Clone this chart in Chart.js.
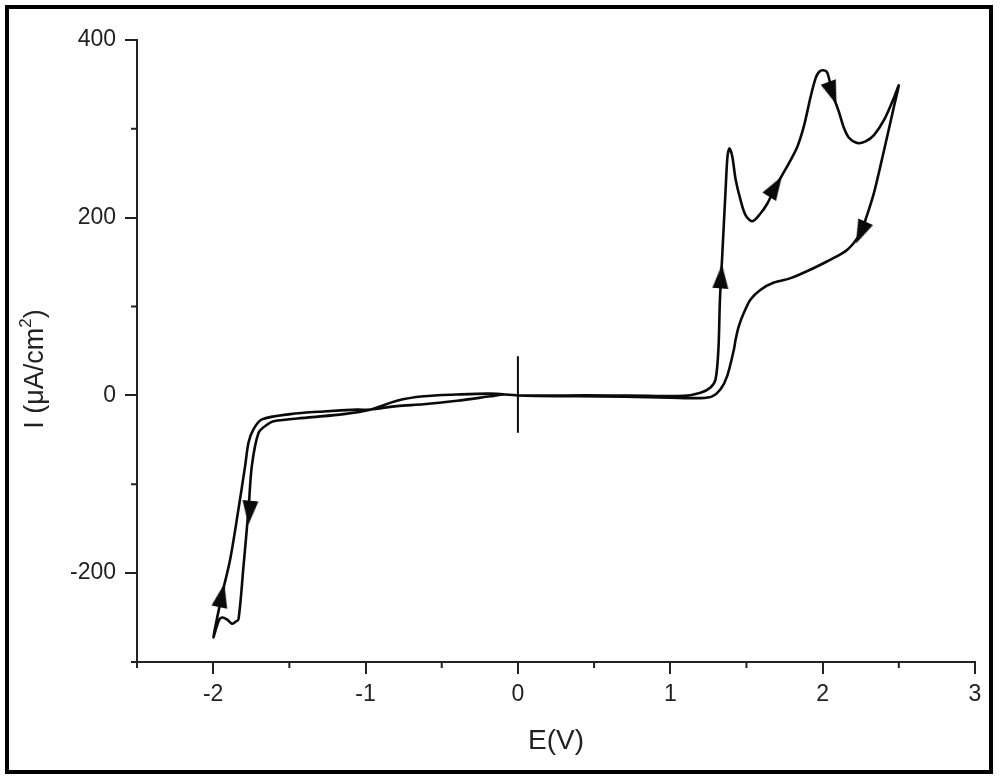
<!DOCTYPE html>
<html>
<head>
<meta charset="utf-8">
<script src="https://cdn.jsdelivr.net/npm/chart.js@4.4.1/dist/chart.umd.min.js"></script>
<style>
  html, body { margin: 0; padding: 0; background: #fff; }
  #wrap { width: 1000px; height: 782px; position: relative; }
</style>
</head>
<body>
<div id="wrap"><canvas id="chart"></canvas></div>
<script>
// scan 1: 0 V -> 2.5 V (anodic)
const fwdE = [0, 0.3, 0.6, 0.85, 1.089, 1.199, 1.264, 1.297, 1.316, 1.326, 1.341, 1.363, 1.376, 1.389, 1.407, 1.429, 1.461, 1.494, 1.538, 1.593, 1.637, 1.691, 1.768, 1.834, 1.877, 1.921, 1.954, 1.976, 2.004, 2.031, 2.064, 2.107, 2.14, 2.173, 2.228, 2.282, 2.337, 2.403, 2.468, 2.5];
const fwdI = [0, 0, 0, -0.5, -0.5, 3, 9, 18, 52, 108, 157, 231, 270, 278, 269, 243, 220, 203, 196, 205, 216, 235, 258, 280, 303, 336, 357, 364, 366, 363, 340, 319, 301, 290, 284, 286, 293, 310, 335, 349];

// scan 2: 2.5 V -> -2 V (cathodic)
const revE = [2.5, 2.468, 2.403, 2.337, 2.282, 2.25, 2.162, 2.031, 1.9, 1.79, 1.68, 1.593, 1.527, 1.483, 1.45, 1.429, 1.418, 1.374, 1.33, 1.275, 1.199, 1.0, 0.7, 0.4, 0, -0.18, -0.4, -0.62, -0.794, -0.969, -1.144, -1.385, -1.604, -1.647, -1.702, -1.746, -1.768, -1.801, -1.834, -1.855, -1.877, -1.91, -1.943, -1.965, -1.998];
const revI = [349, 325, 276, 228, 198, 183, 164, 151, 140, 132, 127, 119, 108, 93, 78, 63, 52, 22, 7, -1, -3, -2.5, -1.5, -1, 0, 2, 1, -1, -6, -16, -21, -25, -29, -33, -42, -79, -128, -192, -252, -255, -257, -252, -250, -254, -272];

// scan 3: -2 V -> 0 V
const retE = [-1.998, -1.943, -1.888, -1.834, -1.79, -1.768, -1.735, -1.68, -1.494, -1.276, -1.056, -0.969, -0.794, -0.619, -0.399, -0.18, -0.09, 0];
const retI = [-272, -225, -184, -128, -79, -53, -38, -27, -21, -18, -16, -16, -12, -10, -6, -1, 1, 0];

// start marker at E = 0
const markE = [0, 0];
const markI = [44, -42];

// direction arrows: position and heading (degrees, clockwise from up)
const arrowE = [1.334, 1.691, 2.064, 2.25, -1.762, -1.943];
const arrowI = [134, 235, 340, 183, -132, -225];
const arrowDeg = [4, 32, 160, 204, 185, 12];

const xTicks = [-2, -1, 0, 1, 2, 3];
const yTicks = [-200, 0, 200, 400];
const xMinor = [-2.5, -1.5, -0.5, 0.5, 1.5, 2.5];
const yMinor = [-300, -100, 100, 300];

const ink = "#0a0a0a";
const axisInk = "#222";
const fam = "'Liberation Sans', Arial, sans-serif";

function pts(xs, ys) {
  return xs.map((v, i) => ({ x: v, y: ys[i] }));
}

// elongated triangle for the arrow heads
function makeArrow() {
  let c = document.createElement("canvas");
  c.width = 16; c.height = 24;
  let g = c.getContext("2d");
  g.fillStyle = ink;
  g.beginPath();
  g.moveTo(8, 0);
  g.lineTo(16, 24);
  g.lineTo(0, 24);
  g.closePath();
  g.fill();
  return c;
}
const arrowImg = makeArrow();

const cvData = pts(fwdE, fwdI).concat(pts(revE, revI).slice(1), pts(retE, retI).slice(1));

const extras = {
  id: "extras",
  afterDraw(chart) {
    const ctx = chart.ctx;
    const xs = chart.scales.x, ys = chart.scales.y;
    ctx.save();
    // minor ticks
    ctx.strokeStyle = axisInk;
    ctx.lineWidth = 2;
    ctx.beginPath();
    xMinor.forEach(v => {
      let px = xs.getPixelForValue(v);
      ctx.moveTo(px, xs.top);
      ctx.lineTo(px, xs.top + 6);
    });
    yMinor.forEach(v => {
      let py = ys.getPixelForValue(v);
      ctx.moveTo(ys.right, py);
      ctx.lineTo(ys.right - 6, py);
    });
    ctx.stroke();

    // y axis title with superscript
    ctx.fillStyle = axisInk;
    ctx.translate(36, 369);
    ctx.rotate(-Math.PI / 2);
    ctx.textBaseline = "middle";
    ctx.textAlign = "left";
    let big = "27px " + fam, small = "17px " + fam;
    let main = "I (\u03bcA/cm";
    ctx.font = big;
    let wMain = ctx.measureText(main).width;
    let wEnd = ctx.measureText(")").width;
    ctx.font = small;
    let wSup = ctx.measureText("2").width;
    let x0 = -(wMain + wSup + wEnd) / 2;
    ctx.font = big;
    ctx.fillText(main, x0, 0);
    ctx.fillText(")", x0 + wMain + wSup, 0);
    ctx.font = small;
    ctx.fillText("2", x0 + wMain, -10);
    ctx.restore();

    // outer frame
    ctx.save();
    ctx.strokeStyle = "#000";
    ctx.lineWidth = 4;
    ctx.strokeRect(7, 7, 984, 765);
    ctx.restore();
  }
};

const chartX = document.getElementById("chart").getContext("2d");
const config = new Chart(chartX, {
  type: "scatter",
  data: {
    datasets: [{
      label: "CV",
      data: cvData,
      showLine: true,
      borderColor: ink,
      borderWidth: 2.6,
      pointRadius: 0,
      tension: 0.3,
      fill: false
    },
    {
      label: "start",
      data: pts(markE, markI),
      showLine: true,
      borderColor: ink,
      borderWidth: 2,
      pointRadius: 0
    },
    {
      label: "arrows",
      data: pts(arrowE, arrowI),
      showLine: false,
      pointStyle: arrowImg,
      rotation: arrowDeg,
      pointRadius: 9
    }]
  },
  options: {
    responsive: true,
    maintainAspectRatio: false,
    animation: false,
    layout: { padding: { top: 40, right: 25, bottom: 10, left: 0 } },
    plugins: {
      legend: { display: false },
      tooltip: { enabled: false }
    },
    scales: {
      x: {
        type: "linear",
        min: -2.5,
        max: 3,
        afterBuildTicks: (axis) => { axis.ticks = xTicks.map(v => ({ value: v })); },
        afterFit: (s) => { s.height = 110; },
        border: { display: true, color: axisInk, width: 2 },
        grid: { drawOnChartArea: false, drawTicks: true, tickLength: 12, color: axisInk, lineWidth: 2 },
        ticks: {
          color: axisInk,
          padding: 7,
          maxRotation: 0,
          font: { size: 23, family: fam },
          callback: (v) => String(v)
        },
        title: {
          display: true,
          text: "E(V)",
          color: axisInk,
          padding: { top: 0, bottom: 14 },
          font: { size: 28, family: fam }
        }
      },
      y: {
        type: "linear",
        min: -300,
        max: 400,
        afterBuildTicks: (axis) => { axis.ticks = yTicks.map(v => ({ value: v })); },
        afterFit: (s) => { s.width = 137; },
        border: { display: true, color: axisInk, width: 2 },
        grid: { drawOnChartArea: false, drawTicks: true, tickLength: 12, color: axisInk, lineWidth: 2 },
        ticks: {
          color: axisInk,
          padding: 9,
          font: { size: 23, family: fam },
          callback: (v) => String(v)
        }
      }
    }
  },
  plugins: [extras]
});
</script>
</body>
</html>
